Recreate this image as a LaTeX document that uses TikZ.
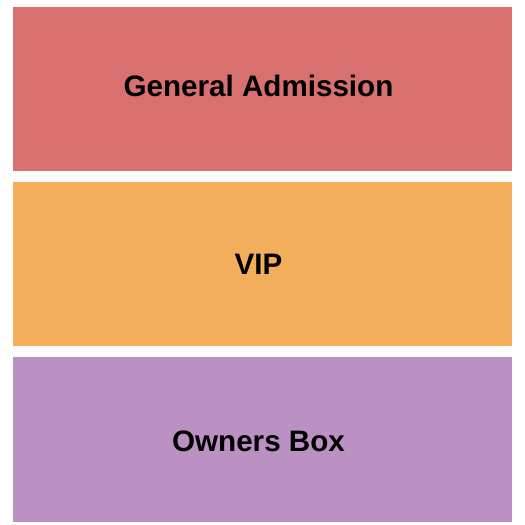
\documentclass[tikz,border=0pt]{standalone}
\usepackage{fontspec}
\setmainfont{Liberation Sans}
\usetikzlibrary{positioning}
\definecolor{gacolor}{RGB}{216,112,112}
\definecolor{vipcolor}{RGB}{243,174,91}
\definecolor{obcolor}{RGB}{187,144,194}

\begin{document}
\begin{tikzpicture}[x=1pt,y=-1pt,
  section/.style={rectangle,inner sep=0pt,minimum width=499pt,minimum height=164.7pt},
  sectionlabel/.style={inner sep=0pt,font=\fontsize{29.6}{34}\selectfont\bfseries}]
\useasboundingbox (0,0) rectangle (525,525);
\node[section,fill=gacolor] (GA) at (262.5,89) {};
\node[section,fill=vipcolor,below=10pt of GA] (VIP) {};
\node[section,fill=obcolor,below=10pt of VIP] (OB) {};
\node[sectionlabel] (GAL) at ([xshift=-4pt,yshift=3pt]GA.center) {General Admission};
\node[sectionlabel] (VIPL) at ([xshift=-4pt]VIP.center) {VIP};
\node[sectionlabel] (OBL) at ([xshift=-4pt,yshift=-2pt]OB.center) {Owners Box};
\end{tikzpicture}
\end{document}
